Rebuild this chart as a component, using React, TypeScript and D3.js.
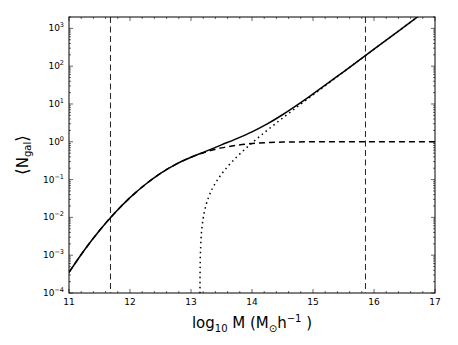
import React from 'react';
import * as d3 from 'd3';

const W = 458;
const H = 345;
const margin = { top: 17, right: 23, bottom: 52, left: 69 };

// halo mass grid (log10 M) and occupation
const logM = [11, 11.25, 11.5, 11.75, 12, 12.25, 12.5, 12.75, 13, 13.25, 13.5, 13.75, 14, 14.25, 14.5, 14.75, 15, 15.5, 16, 16.5, 17];
const nTotal = [3.5e-4, 1.35e-3, 4.5e-3, 0.0131, 0.0333, 0.074, 0.146, 0.252, 0.39, 0.565, 0.829, 1.21, 1.83, 2.97, 5.19, 9.6, 18.4, 71.1, 281, 1117, 4447];
const nCentral = [3.5e-4, 1.35e-3, 4.5e-3, 0.0131, 0.0333, 0.074, 0.146, 0.252, 0.39, 0.543, 0.69, 0.812, 0.899, 0.952, 0.98, 0.993, 0.998, 1.0, 1.0, 1.0, 1.0];

// satellites start at the cutoff mass, so they get their own (denser) grid
const logMSat = [13.146, 13.15, 13.16, 13.18, 13.2, 13.25, 13.3, 13.4, 13.5, 13.6, 13.75, 14, 14.25, 14.5, 14.75, 15, 15.5, 16, 16.5, 17];
const nSat = [7.2e-5, 5.0e-4, 1.9e-3, 5.4e-3, 9.5e-3, 0.0222, 0.0381, 0.0804, 0.139, 0.22, 0.397, 0.932, 2.02, 4.21, 8.61, 17.4, 70.1, 280, 1116, 4446];

// vertical dashed markers
const markers = [11.68, 15.86];

const xTicks = [11, 12, 13, 14, 15, 16, 17];
const yTicks = [1e-4, 1e-3, 1e-2, 1e-1, 1e0, 1e1, 1e2, 1e3];

const font = 'DejaVu Sans, sans-serif';

export default function App() {
  const iw = W - margin.left - margin.right;
  const ih = H - margin.top - margin.bottom;

  const x = d3.scaleLinear().domain([11, 17]).range([0, iw]);
  const y = d3.scaleLog().domain([1e-4, 2000]).range([ih, 0]);

  const line = (xs: number[], ys: number[]) =>
    d3.line<number>()
      .x((_, i) => x(xs[i]))
      .y((d) => y(d))
      .curve(d3.curveMonotoneX)(ys) || '';

  // minor ticks: every 0.2 on x, 2..9 per decade on y
  const xMinor: number[] = [];
  for (let v = 11; v < 17; v += 1) {
    for (let k = 1; k < 5; k++) xMinor.push(v + k * 0.2);
  }
  const yMinor: number[] = [];
  yTicks.forEach((t) => {
    for (let k = 2; k < 10; k++) {
      const v = t * k;
      if (v <= 2000) yMinor.push(v);
    }
  });

  const stroke = '#000';

  return (
    <div style={{ position: 'absolute', left: 0, top: 0 }}>
      <svg width={W} height={H} style={{ display: 'block', background: '#fff' }}>
        <defs>
          <clipPath id="plot">
            <rect x={0} y={0} width={iw} height={ih} />
          </clipPath>
        </defs>
        <g transform={`translate(${margin.left},${margin.top})`}>
          <g clipPath="url(#plot)" fill="none">
            {markers.map((m) => (
              <line key={m} x1={x(m)} x2={x(m)} y1={0} y2={ih} stroke="#222" strokeWidth={1} strokeDasharray="6,3.5" />
            ))}
            <path d={line(logM, nCentral)} stroke={stroke} strokeWidth={1.5} strokeDasharray="6,4" />
            <path d={line(logMSat, nSat)} stroke={stroke} strokeWidth={1.5} strokeDasharray="1.5,3.5" />
            <path d={line(logM, nTotal)} stroke={stroke} strokeWidth={1.5} />
          </g>

          {/* ticks, inward on all four sides */}
          <g stroke={stroke} strokeWidth={0.6}>
            {xTicks.map((t) => (
              <g key={`xt${t}`}>
                <line x1={x(t)} x2={x(t)} y1={ih} y2={ih - 4} />
                <line x1={x(t)} x2={x(t)} y1={0} y2={4} />
              </g>
            ))}
            {xMinor.map((t) => (
              <g key={`xm${t}`}>
                <line x1={x(t)} x2={x(t)} y1={ih} y2={ih - 2} />
                <line x1={x(t)} x2={x(t)} y1={0} y2={2} />
              </g>
            ))}
            {yTicks.map((t) => (
              <g key={`yt${t}`}>
                <line x1={0} x2={4} y1={y(t)} y2={y(t)} />
                <line x1={iw} x2={iw - 4} y1={y(t)} y2={y(t)} />
              </g>
            ))}
            {yMinor.map((t) => (
              <g key={`ym${t}`}>
                <line x1={0} x2={2} y1={y(t)} y2={y(t)} />
                <line x1={iw} x2={iw - 2} y1={y(t)} y2={y(t)} />
              </g>
            ))}
          </g>

          <rect x={0} y={0} width={iw} height={ih} fill="none" stroke={stroke} strokeWidth={1} />

          {/* tick labels */}
          <g fontFamily={font} fontSize={9} fill="#000">
            {xTicks.map((t) => (
              <text key={`xl${t}`} x={x(t)} y={ih + 12} textAnchor="middle">{t}</text>
            ))}
            {yTicks.map((t) => {
              const e = Math.round(Math.log10(t));
              return (
                <text key={`yl${t}`} x={-5} y={y(t) + 3} textAnchor="end">
                  10
                  <tspan fontSize={6.5} dy={-4}>{e < 0 ? `\u2212${-e}` : e}</tspan>
                </text>
              );
            })}
          </g>

          {/* axis titles */}
          <text x={iw / 2} y={ih + 35} textAnchor="middle" fontFamily={font} fontSize={15}>
            log<tspan fontSize={10} dy={4}>10</tspan>
            <tspan dy={-4}> M (M</tspan>
            <tspan fontSize={10} dy={4}>{'\u2299'}</tspan>
            <tspan dy={-4}>h</tspan>
            <tspan fontSize={10} dy={-6}>{'\u22121'}</tspan>
            <tspan dy={6}> )</tspan>
          </text>
          <text
            transform={`translate(${28 - margin.left},${155 - margin.top}) rotate(-90)`}
            textAnchor="middle"
            fontFamily={font}
            fontSize={15}
          >
            <tspan fontSize={17}>{'\u27E8'}</tspan>N<tspan fontSize={10} dy={3}>gal</tspan>
            <tspan dy={-3} fontSize={17}>{'\u27E9'}</tspan>
          </text>
        </g>
      </svg>
    </div>
  );
}
